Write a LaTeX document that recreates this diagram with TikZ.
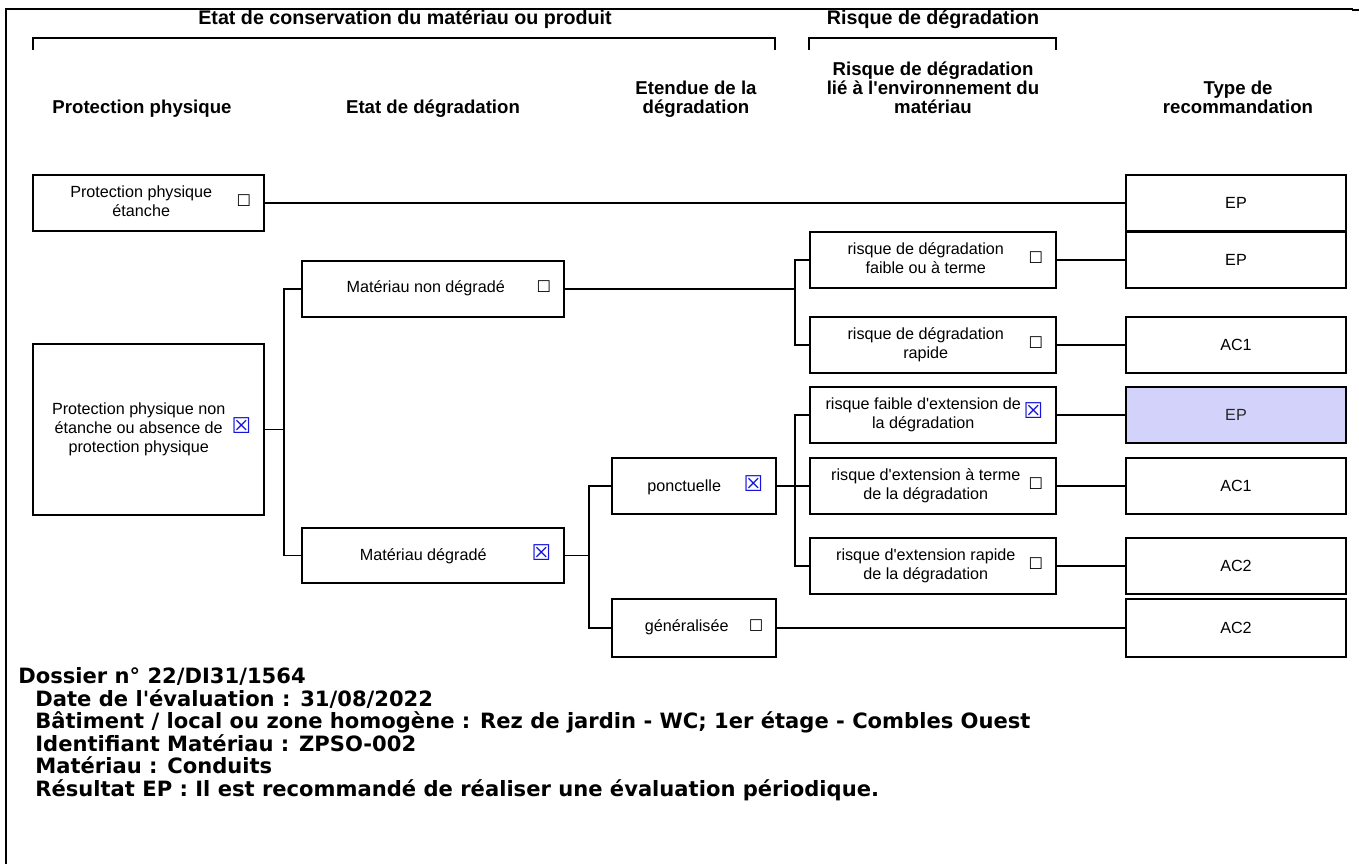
\documentclass[tikz,border=0pt]{standalone}
\usepackage{fontspec}
\setmainfont{Liberation Sans}[Ligatures=TeXOff]
\newfontfamily\symbfont{DejaVu Sans}
\newfontfamily\notefont{DejaVu Sans}
\usetikzlibrary{positioning}
\definecolor{checkblue}{RGB}{20, 20, 220}
\definecolor{pickfill}{RGB}{210, 210, 250}
\definecolor{recgray}{RGB}{40, 40, 40}
\newcommand{\nochk}{{\symbfont\char"2610}}
\newcommand{\yeschk}{\scalebox{1.35}{\symbfont\color{checkblue}\char"2612}}
\newcommand{\boxcell}[3]{\makebox[#1][c]{\begin{tabular}{@{}c@{}}#2\end{tabular}}#3}

\begin{document}
\begin{tikzpicture}[
    x=0.02cm, y=-0.02cm,
    box/.style={rectangle, draw, line width=1.1pt, inner sep=0pt, minimum height=1.12cm, font=\fontsize{9.2}{10.8}\selectfont},
    pick/.style={box, fill=pickfill, text=recgray},
    conn/.style={line width=1pt},
    head/.style={font=\fontsize{10.6}{10.8}\selectfont\bfseries, align=center},
    grouphead/.style={head, font=\fontsize{11.2}{11.2}\selectfont\bfseries},
    colhead/.style={head, anchor=south, execute at end node={\strut}},
    note/.style={font=\notefont\bfseries\fontsize{12}{12}\selectfont, anchor=base west, inner sep=0pt}
]
    \useasboundingbox (0,0) rectangle (1359,864);

    % frame
    \draw[line width=1.1pt] (6,864) -- (6,9) -- (1353,9);
    \draw[line width=1.6pt] (1352,10) -- (1359,10);

    % group headers
    \node[grouphead] (hcons) at (405,19) {Etat de conservation du matériau ou produit};
    \node[grouphead] (hrisk) at (933,19) {Risque de dégradation};
    \draw[conn] (33,50) |- (775,38) -- (775,50);
    \draw[conn] (809,50) |- (1056,38) -- (1056,50);

    % column headers
    \node[colhead] (cprot) at (142,125) {Protection physique};
    \node[colhead] (cetat) at (433,125) {Etat de dégradation};
    \node[colhead] (cext) at (696,125) {Etendue de la\\dégradation};
    \node[colhead] (cenv) at (933,125) {Risque de dégradation\\lié à l'environnement du\\matériau};
    \node[colhead] (ctype) at (1238,125) {Type de\\recommandation};

    % protection physique
    \node[box, minimum width=4.62cm] (ppe) at (148.5,203) {\boxcell{3.82cm}{Protection physique\\étanche}{\nochk}};
    \node[box, minimum width=4.62cm, minimum height=3.42cm] (ppn) at (148.5,429.5) {\boxcell{3.72cm}{Protection physique non\\étanche ou absence de\\protection physique}{\yeschk}};

    % etat de degradation
    \node[box, minimum width=5.24cm] (mnd) at (433,289) {\boxcell{4.44cm}{Matériau non dégradé}{\nochk}};
    \node[box, minimum width=5.24cm, minimum height=1.1cm] (mdg) at (433,555.5) {\boxcell{4.34cm}{Matériau dégradé}{\yeschk}};

    % etendue
    \node[box, minimum width=3.28cm] (ponc) at (694,486) {\boxcell{2.38cm}{ponctuelle}{\yeschk}};
    \node[box, minimum width=3.28cm, minimum height=1.16cm] (gene) at (694,628) {\boxcell{2.48cm}{généralisée}{\nochk}};

    % risque lie a l'environnement
    \node[box, minimum width=4.92cm] (rfa) at (933,260) {\boxcell{4.12cm}{risque de dégradation\\faible ou à terme}{\nochk}};
    \node[box, minimum width=4.92cm] (rra) at (933,345) {\boxcell{4.12cm}{risque de dégradation\\rapide}{\nochk}};
    \node[box, minimum width=4.92cm] (efa) at (933,415) {\boxcell{4.02cm}{risque faible d'extension de\\la dégradation}{\yeschk}};
    \node[box, minimum width=4.92cm] (ete) at (933,486) {\boxcell{4.12cm}{risque d'extension à terme\\de la dégradation}{\nochk}};
    \node[box, minimum width=4.92cm] (era) at (933,566) {\boxcell{4.12cm}{risque d'extension rapide\\de la dégradation}{\nochk}};

    % type de recommandation
    \node[box, minimum width=4.4cm] (rec0) at (1236,203) {EP};
    \node[box, minimum width=4.4cm] (rec1) at (1236,260) {EP};
    \node[box, minimum width=4.4cm] (rec2) at (1236,345) {AC1};
    \node[pick, minimum width=4.4cm] (rec3) at (1236,415) {EP};
    \node[box, minimum width=4.4cm] (rec4) at (1236,486) {AC1};
    \node[box, minimum width=4.4cm] (rec5) at (1236,566) {AC2};
    \node[box, minimum width=4.4cm, minimum height=1.16cm] (rec6) at (1236,628) {AC2};

    % connectors
    \draw[conn] (ppe) -- (rec0);
    \draw[conn] (ppn.east) -- ++(19,0) |- (mnd.west);
    \draw[conn] (ppn.east) -- ++(19,0) |- (mdg.west);
    \draw[conn] (mnd.east) -- ++(230,0) |- (rfa.west);
    \draw[conn] (mnd.east) -- ++(230,0) |- (rra.west);
    \draw[conn] (mdg.east) -- ++(24,0) |- (ponc.west);
    \draw[conn] (mdg.east) -- ++(24,0) |- (gene.west);
    \draw[conn] (ponc.east) -- ++(18,0) |- (efa.west);
    \draw[conn] (ponc.east) -- (ete.west);
    \draw[conn] (ponc.east) -- ++(18,0) |- (era.west);
    \draw[conn] (rfa) -- (rec1);
    \draw[conn] (rra) -- (rec2);
    \draw[conn] (efa) -- (rec3);
    \draw[conn] (ete) -- (rec4);
    \draw[conn] (era) -- (rec5);
    \draw[conn] (gene) -- (rec6);

    % dossier
    \node[note] (dos) at (18,683) {Dossier n° 22/DI31/1564};
    \node[note] (date) at (35,706) {Date de l'évaluation : 31/08/2022};
    \node[note] (bat) at (35,728) {Bâtiment / local ou zone homogène : Rez de jardin - WC; 1er étage - Combles Ouest};
    \node[note] (ident) at (35,751) {Identifiant Matériau : ZPSO-002};
    \node[note] (mat) at (35,773) {Matériau : Conduits};
    \node[note] (res) at (35,796) {Résultat EP : Il est recommandé de réaliser une évaluation périodique.};
\end{tikzpicture}
\end{document}
